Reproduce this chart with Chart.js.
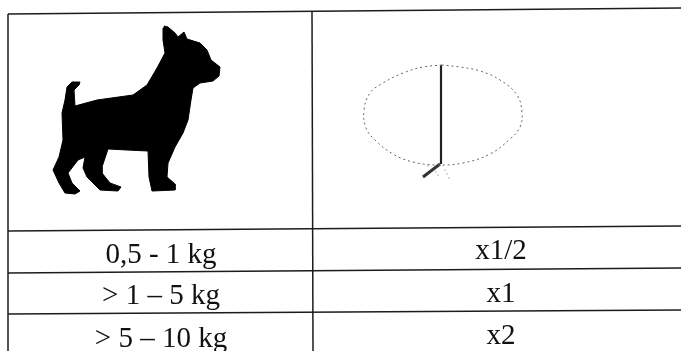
<!DOCTYPE html>
<html>
<head>
<meta charset="utf-8">
<style>
  html, body { margin: 0; padding: 0; background: #fff; }
  #wrap { position: relative; width: 681px; height: 351px; }
</style>
<script src="https://cdn.jsdelivr.net/npm/chart.js@4"></script>
</head>
<body>
<div id="wrap"><canvas id="grafico"></canvas></div>
<script>
const pesos = ["0,5 - 1 kg", "> 1 – 5 kg", "> 5 – 10 kg"];
const doses = ["x1/2", "x1", "x2"];
const linhaPeso = [263, 304, 347];
const linhaDose = [259, 302, 344];

// contorno do cachorro
const cachorroX = [164,168,175,178,184,187,200,207,211,220,219,213,200,193,191,188,183,175,168,167,175,175,152,149,148,127,108,102,102,110,121,118,100,87,83,85,78,68,72,80,75,65,59,53,59,63,62,65,67,72,80,79,74,75,97,133,147,157,165,163,163];
const cachorroY = [26,27,33,37,32,39,43,50,60,67,76,81,83,88,100,120,133,147,163,177,184,190,191,177,151,150,149,167,173,183,187,191,190,177,168,157,160,173,183,191,194,193,183,170,157,140,113,100,87,82,82,85,90,106,100,95,85,68,53,40,28];

// lupa
const elipseX = [442,423,403,383,370,364,366,375,393,413,437,463,490,510,520,522,517,500,480,460,442];
const elipseY = [65,67,73,83,93,110,128,140,154,162,165,163,154,139,127,113,95,80,71,67,65];
const hasteX = [441,441];
const hasteY = [65,164];
const caboX = [440,423];
const caboY = [164,177];
const respingoX = [428,433,436,438,445,447,449];
const respingoY = [166,170,172,175,170,174,178];

// grade da tabela
const gradeX = [[8,681],[8,681],[8,681],[8,681],[8,8],[312,313]];
const gradeY = [[14,8],[231,226],[273,268],[314,310],[14,351],[12,351]];

function pontos(xs, ys) {
  return xs.map((x, i) => ({ x: x, y: ys[i] }));
}

const grade = gradeX.map((xs, i) => ({
  data: pontos(xs, gradeY[i]),
  showLine: true,
  borderColor: "#1c1c1c",
  borderWidth: 1.5,
  pointRadius: 0
}));

const textoTabela = {
  id: "textoTabela",
  afterDatasetsDraw(chart) {
    const ctx = chart.ctx;
    const sx = chart.scales.x, sy = chart.scales.y;
    ctx.save();
    ctx.font = '29px "Liberation Serif"';
    ctx.fillStyle = "#111";
    ctx.textAlign = "center";
    ctx.textBaseline = "alphabetic";
    pesos.forEach((p, i) => {
      ctx.fillText(p, sx.getPixelForValue(161), sy.getPixelForValue(linhaPeso[i]));
      ctx.fillText(doses[i], sx.getPixelForValue(501), sy.getPixelForValue(linhaDose[i]));
    });
    ctx.restore();
  }
};

new Chart(document.getElementById("grafico"), {
  type: "scatter",
  data: {
    datasets: [
      ...grade,
      {
        data: pontos(cachorroX, cachorroY),
        showLine: true,
        fill: "shape",
        backgroundColor: "#000",
        borderColor: "#000",
        borderWidth: 1,
        pointRadius: 0
      },
      {
        data: pontos(elipseX, elipseY),
        showLine: true,
        tension: 0.4,
        borderColor: "#666",
        borderWidth: 1,
        borderDash: [2, 3],
        pointRadius: 0
      },
      {
        data: pontos(hasteX, hasteY),
        showLine: true,
        borderColor: "#222",
        borderWidth: 2.2,
        pointRadius: 0
      },
      {
        data: pontos(caboX, caboY),
        showLine: true,
        borderColor: "#333",
        borderWidth: 3,
        pointRadius: 0
      },
      {
        data: pontos(respingoX, respingoY),
        showLine: false,
        backgroundColor: "#999",
        pointRadius: 0.7,
        pointBorderWidth: 0
      }
    ]
  },
  options: {
    responsive: true,
    maintainAspectRatio: false,
    animation: false,
    layout: { padding: 0, autoPadding: false },
    plugins: { legend: { display: false }, tooltip: { enabled: false } },
    scales: {
      x: { type: "linear", min: 0, max: 681, display: false },
      y: { type: "linear", min: 0, max: 351, reverse: true, display: false }
    }
  },
  plugins: [textoTabela]
});
</script>
</body>
</html>
